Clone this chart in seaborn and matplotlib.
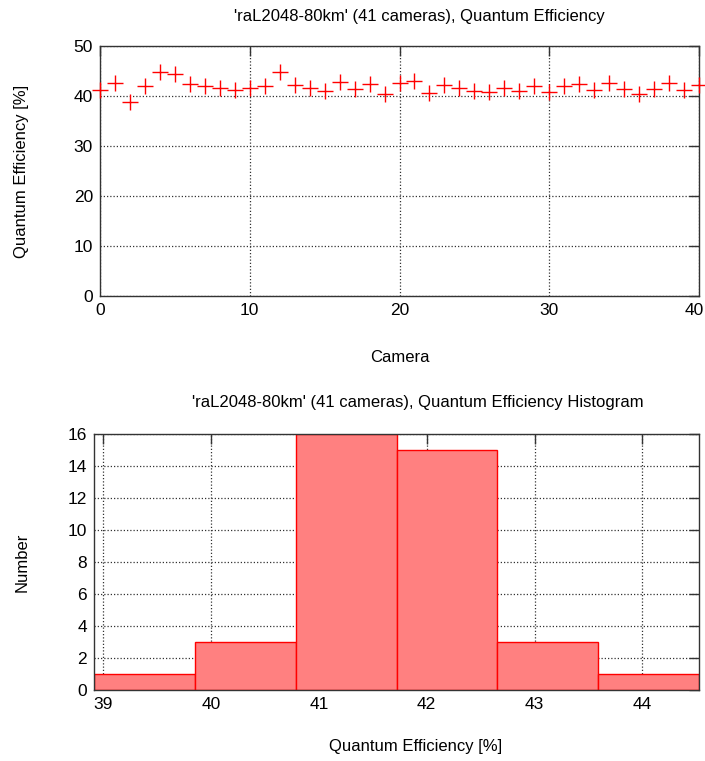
import numpy as np
import pandas as pd
import matplotlib
matplotlib.use("Agg")
import matplotlib.pyplot as plt
import matplotlib.transforms as mtransforms
import seaborn as sns

# ---- data ----
cameras = list(range(41))
qe_values = [41.3, 42.7, 38.9, 42.0, 44.9, 44.4, 42.5, 42.1, 41.6, 41.3,
             41.6, 42.1, 44.8, 42.3, 41.7, 41.1, 42.8, 41.5, 42.5, 40.5,
             42.7, 43.0, 40.7, 42.3, 41.7, 41.1, 40.8, 41.7, 41.1, 42.1,
             40.8, 42.0, 42.5, 41.2, 42.6, 41.5, 40.5, 41.5, 42.6, 41.3,
             42.3]
hist_edges = [38.916, 39.852, 40.787, 41.72, 42.655, 43.59, 44.524]
hist_counts = [1, 3, 16, 15, 3, 1]
top_xticks = [0, 10, 20, 30, 40]
top_yticks = [0, 10, 20, 30, 40, 50]
hist_xticks = [39, 40, 41, 42, 43, 44]
hist_yticks = [0, 2, 4, 6, 8, 10, 12, 14, 16]

title_top = "'raL2048-80km' (41 cameras), Quantum Efficiency"
title_bottom = "'raL2048-80km' (41 cameras), Quantum Efficiency Histogram"

sns.set_style("white")
plt.rcParams['font.family'] = ['Liberation Sans', 'DejaVu Sans']
plt.rcParams['font.size'] = 12
plt.rcParams['text.color'] = 'black'
plt.rcParams['xtick.labelcolor'] = 'black'
plt.rcParams['ytick.labelcolor'] = 'black'

W, H = 705, 761
fig = plt.figure(figsize=(W / 100, H / 100), dpi=100)

def px_axes(l, t, r, b):
    return fig.add_axes([l / W, 1 - b / H, (r - l) / W, (b - t) / H])

frame_col = '#333333'
grid_kw = dict(color='#333333', linestyle=(0, (1, 1.6)), linewidth=0.9)

def style(ax):
    for s in ax.spines.values():
        s.set_color(frame_col)
        s.set_linewidth(1.0)
        s.set_visible(True)
    ax.tick_params(direction='in', length=7, width=1.0, color=frame_col,
                   top=True, right=True, labelsize=12.5, pad=5,
                   labelcolor='black')
    ax.grid(True, **grid_kw)
    ax.set_axisbelow(True)

# ---- top: scatter ----
ax1 = px_axes(100, 46, 699, 296)
df = pd.DataFrame({'Camera': cameras, 'QE': qe_values})
sns.scatterplot(data=df, x='Camera', y='QE', marker='+', s=120, color='red',
                linewidth=1.0, ax=ax1, clip_on=False, zorder=5)
ax1.set_xlim(0, 40)
ax1.set_ylim(0, 50)
ax1.set_xticks(top_xticks)
ax1.set_yticks(top_yticks)
ax1.set_xlabel('')
ax1.set_ylabel('')
style(ax1)
# nudge last x tick label so it stays inside the canvas
last = ax1.get_xticklabels()[-1]
last.set_transform(last.get_transform() +
                   mtransforms.ScaledTranslation(-5 / 100, 0, fig.dpi_scale_trans))

fig.text(419 / W, 1 - 16 / H, title_top, ha='center', va='center', fontsize=12)
fig.text(400 / W, 1 - 357 / H, 'Camera', ha='center', va='center', fontsize=12)
fig.text(22 / W, 1 - 171 / H, 'Quantum Efficiency [%]', ha='center', va='center',
         rotation=90, fontsize=12)

# ---- bottom: histogram ----
ax2 = px_axes(94, 434, 699, 690)
centers = [(hist_edges[i] + hist_edges[i + 1]) / 2 for i in range(len(hist_counts))]
sns.histplot(x=centers, weights=hist_counts, bins=hist_edges, ax=ax2,
             color='red', edgecolor='red', linewidth=1.0)
for p in ax2.patches:
    p.set_alpha(None)
    p.set_facecolor((1.0, 0.5, 0.5))
    p.set_edgecolor('red')
ax2.set_xlim(hist_edges[0], hist_edges[-1])
ax2.set_ylim(0, 16)
ax2.set_xticks(hist_xticks)
ax2.set_yticks(hist_yticks)
ax2.set_xlabel('')
ax2.set_ylabel('')
style(ax2)

fig.text(418 / W, 1 - 403 / H, title_bottom, ha='center', va='center', fontsize=12)
fig.text(416 / W, 1 - 747 / H, 'Quantum Efficiency [%]', ha='center', va='center', fontsize=12)
fig.text(22 / W, 1 - 562 / H, 'Number', ha='center', va='center', rotation=90, fontsize=12)

fig.savefig('out.png', dpi=100)
